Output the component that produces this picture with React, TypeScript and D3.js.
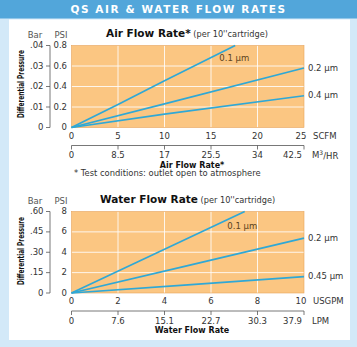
import React from "react";
import * as d3 from "d3";

const airScfmTicks = [0, 5, 10, 15, 20, 25];
const airM3Labels = ["0", "8.5", "17", "25.5", "34", "42.5"];
const airPsiTicks = [0, 0.2, 0.4, 0.6, 0.8];
const airPsiLabels = ["0", "0.2", "0.4", "0.6", "0.8"];
const airBarLabels = ["0", ".01", ".02", ".03", ".04"];

const air01: [number, number][] = [[0, 0], [5, 0.225], [10, 0.455], [17.6, 0.8]];
const air02: [number, number][] = [[0, 0], [10, 0.23], [25, 0.58]];
const air04: [number, number][] = [[0, 0], [10, 0.13], [25, 0.31]];

const waterGpmTicks = [0, 2, 4, 6, 8, 10];
const waterLpmLabels = ["0", "7.6", "15.1", "22.7", "30.3", "37.9"];
const waterPsiTicks = [0, 2, 4, 6, 8];
const waterPsiLabels = ["0", "2", "4", "6", "8"];
const waterBarLabels = ["0", ".15", ".30", ".45", ".60"];

const water01: [number, number][] = [[0, 0], [4, 4.3], [7.45, 8]];
const water02: [number, number][] = [[0, 0], [5, 2.68], [10, 5.38]];
const water045: [number, number][] = [[0, 0], [5, 0.8], [10, 1.6]];

const FONT = "'DejaVu Sans', sans-serif";
const ORANGE = "#fbc682";
const LINE = "#2fa8d6";
const TXT = "#333";

type Series = { pts: [number, number][]; label: string; inside?: [number, number] };

function Panel(props: {
  top: number;
  bottom: number;
  xMax: number;
  yMax: number;
  xTicks: number[];
  x2Labels: string[];
  yTicks: number[];
  yLabels: string[];
  barLabels: string[];
  unit1: string;
  unit2: React.ReactNode;
  title: string;
  series: Series[];
  xTitle: string;
  yTitleCenter: number;
  note?: string;
}) {
  const x = d3.scaleLinear().domain([0, props.xMax]).range([71.5, 304]);
  const y = d3.scaleLinear().domain([0, props.yMax]).range([props.bottom, props.top]);
  const line = d3
    .line<[number, number]>()
    .x((d) => x(d[0]))
    .y((d) => y(d[1]));
  const [x0, x1] = x.range();
  const yb = props.bottom;
  const yt = props.top;
  const n = props.xTicks.length;
  return (
    <g fontFamily={FONT} fill={TXT}>
      {/* title */}
      <text x={props.title === "Air" ? 106 : 100} y={yt - 9} fontSize={10.5}>
        <tspan fontWeight="bold" fill="#111">
          {props.title === "Air" ? "Air Flow Rate*" : "Water Flow Rate"}
        </tspan>
        <tspan fontSize={8.2} fill="#333"> (per 10''cartridge)</tspan>
      </text>
      {/* Bar / PSI headers */}
      <text x={35} y={yt - 8} fontSize={8.5} textAnchor="middle" fill="#555">Bar</text>
      <text x={61} y={yt - 8} fontSize={8.5} textAnchor="middle" fill="#555">PSI</text>
      {/* plot */}
      <rect x={x0} y={yt} width={x1 - x0} height={yb - yt} fill={ORANGE} />
      {props.xTicks.slice(1, -1).map((t) => (
        <line key={"gx" + t} x1={x(t)} x2={x(t)} y1={yt} y2={yb} stroke="#fff" strokeWidth={1} opacity={0.85} />
      ))}
      {props.yTicks.slice(1, -1).map((t) => (
        <line key={"gy" + t} x1={x0} x2={x1} y1={y(t)} y2={y(t)} stroke="#fff" strokeWidth={1} opacity={0.85} />
      ))}
      <rect x={x0} y={yt} width={x1 - x0} height={yb - yt} fill="none" stroke="#e6a45c" strokeWidth={0.6} />
      {/* series */}
      {props.series.map((s, i) => {
        const last = s.pts[s.pts.length - 1];
        return (
          <g key={i}>
            <path d={line(s.pts) || ""} fill="none" stroke={LINE} strokeWidth={1.7} />
            {s.inside ? (
              <text x={x(s.inside[0])} y={y(s.inside[1])} fontSize={8.5} fill="#5a4320" dominantBaseline="middle">
                {s.label}
              </text>
            ) : (
              <text x={x(last[0]) + 4} y={y(last[1])} fontSize={8.5} fill={TXT} dominantBaseline="middle">
                {s.label}
              </text>
            )}
          </g>
        );
      })}
      {/* PSI labels */}
      {props.yTicks.map((t, i) => (
        <text key={"py" + t} x={67} y={y(t)} fontSize={8.5} textAnchor="end" dominantBaseline="middle">
          {props.yLabels[i]}
        </text>
      ))}
      {/* Bar axis */}
      <line x1={50} x2={50} y1={yt} y2={yb} stroke="#555" strokeWidth={0.8} />
      {props.yTicks.map((t, i) => (
        <g key={"by" + t}>
          <line x1={46} x2={50} y1={y(t)} y2={y(t)} stroke="#555" strokeWidth={0.8} />
          <text x={43.5} y={y(t)} fontSize={8.5} textAnchor="end" dominantBaseline="middle">
            {props.barLabels[i]}
          </text>
        </g>
      ))}
      {/* y title */}
      <text
        transform={`translate(21,${props.yTitleCenter}) rotate(-90)`}
        fontSize={8.5}
        fontWeight="bold"
        textAnchor="middle"
        dominantBaseline="middle"
        textLength={68}
        lengthAdjust="spacingAndGlyphs"
        fill="#111"
      >
        Differential Pressure
      </text>
      {/* x axis 1 */}
      {props.xTicks.map((t, i) => (
        <text
          key={"xl" + t}
          x={x(t) - (i === n - 1 ? 3 : 0)}
          y={yb + 8.5}
          fontSize={8.5}
          textAnchor="middle"
          dominantBaseline="middle"
        >
          {t}
        </text>
      ))}
      <text x={313} y={yb + 8.5} fontSize={8.5} dominantBaseline="middle">{props.unit1}</text>
      {/* x axis 2 */}
      <line x1={x0} x2={x1} y1={yb + 18} y2={yb + 18} stroke="#555" strokeWidth={0.8} />
      {props.xTicks.map((t, i) => (
        <g key={"x2" + t}>
          <line x1={x(t)} x2={x(t)} y1={yb + 18} y2={yb + 22} stroke="#555" strokeWidth={0.8} />
          <text
            x={i === n - 1 ? x(t) - 2 : x(t)}
            y={yb + 28}
            fontSize={8.5}
            textAnchor={i === n - 1 ? "end" : "middle"}
            dominantBaseline="middle"
          >
            {props.x2Labels[i]}
          </text>
        </g>
      ))}
      <text x={312} y={yb + 28} fontSize={8.5} dominantBaseline="middle">{props.unit2}</text>
      <text x={192} y={yb + 37.5} fontSize={8} fontWeight="bold" textAnchor="middle" dominantBaseline="middle" fill="#111">
        {props.xTitle}
      </text>
      {props.note ? (
        <text x={74} y={yb + 46} fontSize={8.4} dominantBaseline="middle">{props.note}</text>
      ) : null}
    </g>
  );
}

export default function App() {
  return (
    <svg width={357} height={347} style={{ position: "absolute", left: 0, top: 0 }}>
      <rect x={0} y={0} width={357} height={347} fill="#d3e9f8" />
      <rect x={0} y={0} width={357} height={18.5} fill="#52a6da" />
      <text
        x={178.5}
        y={10}
        fontFamily={FONT}
        fontSize={10.5}
        fontWeight="bold"
        fill="#fff"
        textAnchor="middle"
        dominantBaseline="middle"
        letterSpacing={1.6}
      >
        QS AIR &amp; WATER FLOW RATES
      </text>
      <rect x={9} y={19.5} width={341} height={320.5} fill="#fff" />
      <Panel
        top={45.5}
        bottom={127.5}
        xMax={25}
        yMax={0.8}
        xTicks={airScfmTicks}
        x2Labels={airM3Labels}
        yTicks={airPsiTicks}
        yLabels={airPsiLabels}
        barLabels={airBarLabels}
        unit1="SCFM"
        unit2={<>M<tspan fontSize={6} dy={-3}>3</tspan><tspan dy={3}>/HR</tspan></>}
        title="Air"
        xTitle="Air Flow Rate*"
        yTitleCenter={84}
        note="* Test conditions: outlet open to atmosphere"
        series={[
          { pts: air01, label: "0.1 µm", inside: [15.9, 0.67] },
          { pts: air02, label: "0.2 µm" },
          { pts: air04, label: "0.4 µm" },
        ]}
      />
      <Panel
        top={211.5}
        bottom={293}
        xMax={10}
        yMax={8}
        xTicks={waterGpmTicks}
        x2Labels={waterLpmLabels}
        yTicks={waterPsiTicks}
        yLabels={waterPsiLabels}
        barLabels={waterBarLabels}
        unit1="USGPM"
        unit2="LPM"
        title="Water"
        xTitle="Water Flow Rate"
        yTitleCenter={251}
        series={[
          { pts: water01, label: "0.1 µm", inside: [6.7, 6.5] },
          { pts: water02, label: "0.2 µm" },
          { pts: water045, label: "0.45 µm" },
        ]}
      />
    </svg>
  );
}
